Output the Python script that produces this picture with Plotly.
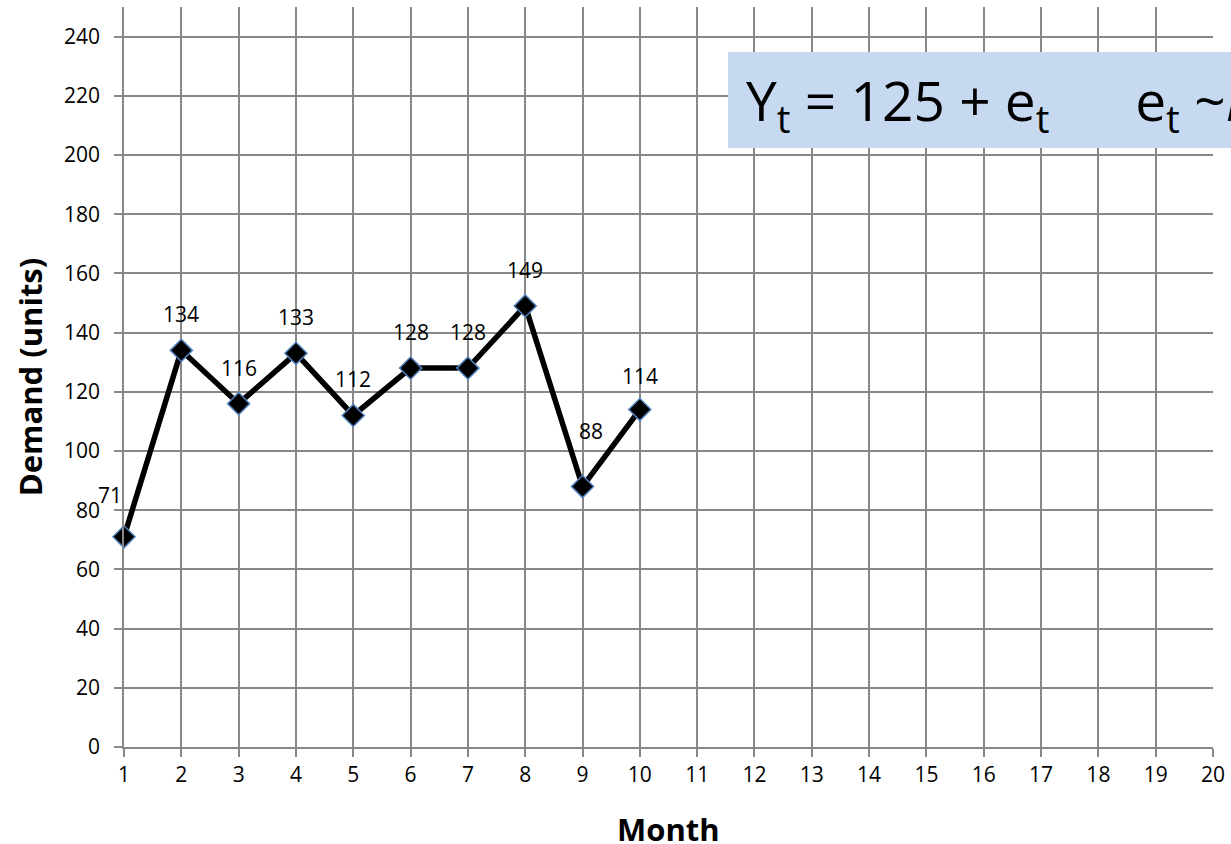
import plotly.graph_objects as go

months = [1, 2, 3, 4, 5, 6, 7, 8, 9, 10]
demand = [71, 134, 116, 133, 112, 128, 128, 149, 88, 114]
x_ticks = list(range(1, 21))
y_ticks = list(range(0, 241, 20))

label_xshift = [-14, 0, 0, 0, 0, 0, 0, 0, 8, 0]
label_yshift = [42, 36, 36, 36, 36, 36, 36, 36, 56, 34]

FONT = "Open Sans"
GRID = "#888888"

W, H = 1231, 844
L, R, T, B = 124, 18, 7, 97
PW, PH = W - L - R, H - T - B

fig = go.Figure()
fig.add_trace(go.Scatter(
    x=months, y=demand, mode="lines+markers",
    line=dict(color="black", width=5.5),
    marker=dict(symbol="diamond", size=17, color="black",
                line=dict(color="#4F81BD", width=1.5)),
    showlegend=False, cliponaxis=False,
))

for m, d, xs, ys in zip(months, demand, label_xshift, label_yshift):
    fig.add_annotation(x=m, y=d, text=str(d), showarrow=False,
                       xshift=xs, yshift=ys,
                       font=dict(family=FONT, size=21, color="black"))

fig.add_shape(type="rect", xref="paper", yref="paper",
              x0=(728 - L) / PW, x1=1.2, y0=(747 - 148) / PH, y1=(747 - 52) / PH,
              fillcolor="#C6D9F1", line=dict(width=0), layer="above")
fig.add_annotation(xref="paper", yref="paper",
                   x=(744 - L) / PW, y=(747 - 100) / PH,
                   xanchor="left", yanchor="middle", showarrow=False,
                   text="Y<sub>t</sub> = 125 + e<sub>t</sub>      e<sub>t</sub> ~<i>N</i>(0, 15<sup>2</sup>)",
                   font=dict(family=FONT, size=55, color="black"), align="left")

# x-axis title
fig.add_annotation(xref="paper", yref="paper", x=0.5, y=0, yshift=-82,
                   xanchor="center", yanchor="middle", showarrow=False,
                   text="<b>Month</b>", font=dict(family=FONT, size=31, color="black"))

fig.update_layout(
    width=W, height=H,
    margin=dict(l=L, r=R, t=T, b=B),
    paper_bgcolor="white", plot_bgcolor="white",
    font=dict(family=FONT, color="black"),
    xaxis=dict(range=[1, 20], tickvals=x_ticks, ticktext=[str(v) for v in x_ticks],
               showgrid=True, gridcolor=GRID, gridwidth=1.5,
               showline=True, linecolor=GRID, linewidth=1.5,
               ticks="outside", ticklen=8, tickcolor=GRID, tickwidth=1.5,
               tickfont=dict(size=21), zeroline=False, automargin=False,
               ticklabeloverflow="allow"),
    yaxis=dict(range=[0, 250], tickvals=y_ticks, ticktext=[str(v) for v in y_ticks],
               showgrid=True, gridcolor=GRID, gridwidth=1.5,
               showline=True, linecolor=GRID, linewidth=1.5,
               ticks="outside", ticklen=8, tickcolor=GRID, tickwidth=1.5,
               ticklabelstandoff=10, automargin=False,
               tickfont=dict(size=21), zeroline=False,
               title=dict(text="<b>Demand (units)</b>", font=dict(size=31), standoff=12)),
)

fig.write_html("out.html", config={"displayModeBar": False},
               post_script="document.body.style.margin='0';document.body.style.overflow='hidden';")
